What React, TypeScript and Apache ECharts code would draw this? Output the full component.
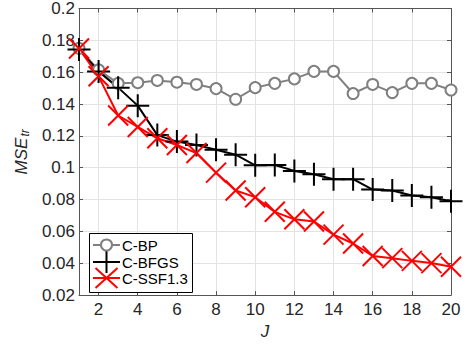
import React, { useEffect, useRef } from "react";
import * as echarts from "echarts";

// Hidden-layer count J on the x axis
const J_VALUES = ["1", "2", "3", "4", "5", "6", "7", "8", "9", "10", "11", "12", "13", "14", "15", "16", "17", "18", "19", "20"];

// Training MSE per method
const C_BP = [0.175, 0.1615, 0.153, 0.1534, 0.1548, 0.1537, 0.1523, 0.1497, 0.143, 0.1503, 0.153, 0.1558, 0.1605, 0.1605, 0.1466, 0.1523, 0.1472, 0.153, 0.153, 0.1488];
const C_BFGS = [0.1743, 0.1605, 0.1503, 0.139, 0.1205, 0.1164, 0.1143, 0.1113, 0.1082, 0.1015, 0.1017, 0.098, 0.0959, 0.0928, 0.0928, 0.0863, 0.0857, 0.0826, 0.0815, 0.0789];
const C_SSF = [0.1749, 0.1574, 0.1328, 0.1256, 0.1185, 0.1143, 0.1092, 0.0969, 0.0857, 0.0815, 0.0723, 0.0676, 0.0662, 0.058, 0.0524, 0.0446, 0.0432, 0.0415, 0.0401, 0.0378];

const SERIES_NAMES = ["C-BP", "C-BFGS", "C-SSF1.3"];
const Y_MIN = 0.02;
const Y_MAX = 0.2;
const Y_STEP = 0.02;

const FONT = "'Liberation Sans', Arial, Helvetica, sans-serif";
const PLUS = "path://M0,-1V1M-1,0H1";
const CROSS = "path://M-1,-1L1,1M-1,1L1,-1";

const evenOnly = (i: number) => i % 2 === 1;

export default function App() {
  const ref = useRef<HTMLDivElement>(null);

  useEffect(() => {
    if (!ref.current) return;
    const chart = echarts.init(ref.current, null, { renderer: "svg" });

    const lx = 93;
    const rx = 120;
    const cx = (lx + rx) / 2;
    const rows = [245, 262, 278];
    const Z = 100;
    const textStyle = { font: `15px ${FONT}`, fill: "#000", verticalAlign: "middle" };

    chart.setOption({
      animation: false,
      backgroundColor: "#fff",
      grid: { left: 79, right: 15, top: 7, bottom: 45, containLabel: false },
      xAxis: [
        {
          type: "category",
          data: J_VALUES,
          boundaryGap: false,
          name: "J",
          nameLocation: "middle",
          nameGap: 27,
          nameTextStyle: { fontFamily: FONT, fontSize: 17, fontStyle: "italic", color: "#262626" },
          axisLine: { lineStyle: { color: "#555", width: 1 } },
          axisTick: { inside: true, length: 4, interval: evenOnly, lineStyle: { color: "#555" } },
          axisLabel: { interval: evenOnly, margin: 6, fontFamily: FONT, fontSize: 17, color: "#262626" },
          splitLine: { show: true, interval: evenOnly, lineStyle: { color: "#e3e3e3", width: 1 } },
        },
        {
          type: "category",
          data: J_VALUES,
          boundaryGap: false,
          position: "top",
          axisLine: { lineStyle: { color: "#555", width: 1 } },
          axisTick: { inside: true, length: 4, interval: evenOnly, lineStyle: { color: "#555" } },
          axisLabel: { show: false },
          splitLine: { show: false },
        },
      ],
      yAxis: [
        {
          type: "value",
          min: Y_MIN,
          max: Y_MAX,
          interval: Y_STEP,
          name: "{m|MSE}{s|tr}",
          nameLocation: "middle",
          nameGap: 47,
          nameRotate: 90,
          nameTextStyle: {
            color: "#262626",
            rich: {
              m: { fontFamily: FONT, fontSize: 17, fontStyle: "italic", color: "#262626" },
              s: { fontFamily: FONT, fontSize: 12, fontStyle: "italic", color: "#262626", padding: [8, 0, 0, 1] },
            },
          },
          axisLine: { show: true, lineStyle: { color: "#555", width: 1 } },
          axisTick: { show: true, inside: true, length: 4, lineStyle: { color: "#555" } },
          axisLabel: {
            margin: 4,
            fontFamily: FONT,
            fontSize: 17,
            color: "#262626",
            formatter: (v: number) => String(+v.toFixed(2)),
          },
          splitLine: { show: true, lineStyle: { color: "#e3e3e3", width: 1 } },
        },
        {
          type: "value",
          min: Y_MIN,
          max: Y_MAX,
          interval: Y_STEP,
          position: "right",
          axisLine: { show: true, lineStyle: { color: "#555", width: 1 } },
          axisTick: { show: true, inside: true, length: 4, lineStyle: { color: "#555" } },
          axisLabel: { show: false },
          splitLine: { show: false },
        },
      ],
      series: [
        {
          name: SERIES_NAMES[0],
          type: "line",
          data: C_BP,
          symbol: "emptyCircle",
          symbolSize: 11,
          showAllSymbol: true,
          lineStyle: { color: "#808080", width: 2 },
          itemStyle: { color: "#808080", borderColor: "#808080", borderWidth: 2 },
        },
        {
          name: SERIES_NAMES[1],
          type: "line",
          data: C_BFGS,
          symbol: PLUS,
          symbolSize: 23,
          showAllSymbol: true,
          lineStyle: { color: "#000", width: 2 },
          itemStyle: { color: "#000", borderColor: "#000", borderWidth: 2 },
        },
        {
          name: SERIES_NAMES[2],
          type: "line",
          data: C_SSF,
          symbol: CROSS,
          symbolSize: 20,
          showAllSymbol: true,
          lineStyle: { color: "#ff0000", width: 2 },
          itemStyle: { color: "#ff0000", borderColor: "#ff0000", borderWidth: 2 },
        },
      ],
      graphic: [
        { type: "rect", z: Z, shape: { x: 89.5, y: 233.5, width: 103, height: 59 }, style: { fill: "#fff", stroke: "#000", lineWidth: 1 } },
        // C-BP
        { type: "line", z: Z + 1, shape: { x1: lx, y1: rows[0], x2: rx, y2: rows[0] }, style: { stroke: "#808080", lineWidth: 2 } },
        { type: "circle", z: Z + 2, shape: { cx, cy: rows[0], r: 5.5 }, style: { fill: "#fff", stroke: "#808080", lineWidth: 2 } },
        { type: "text", z: Z + 1, x: 122, y: rows[0], style: { text: SERIES_NAMES[0], ...textStyle } },
        // C-BFGS
        { type: "line", z: Z + 1, shape: { x1: lx, y1: rows[1], x2: rx, y2: rows[1] }, style: { stroke: "#000", lineWidth: 2 } },
        { type: "line", z: Z + 1, shape: { x1: cx, y1: rows[1] - 12, x2: cx, y2: rows[1] + 11 }, style: { stroke: "#000", lineWidth: 2 } },
        { type: "text", z: Z + 1, x: 122, y: rows[1], style: { text: SERIES_NAMES[1], ...textStyle } },
        // C-SSF1.3
        { type: "line", z: Z + 1, shape: { x1: lx, y1: rows[2], x2: rx, y2: rows[2] }, style: { stroke: "#ff0000", lineWidth: 2 } },
        { type: "line", z: Z + 1, shape: { x1: cx - 11, y1: rows[2] - 10, x2: cx + 11, y2: rows[2] + 10 }, style: { stroke: "#ff0000", lineWidth: 2 } },
        { type: "line", z: Z + 1, shape: { x1: cx - 11, y1: rows[2] + 10, x2: cx + 11, y2: rows[2] - 10 }, style: { stroke: "#ff0000", lineWidth: 2 } },
        { type: "text", z: Z + 1, x: 122, y: rows[2], style: { text: SERIES_NAMES[2], ...textStyle } },
      ],
    });

    return () => chart.dispose();
  }, []);

  return <div ref={ref} style={{ width: 466, height: 345, position: "absolute", left: 0, top: 0 }} />;
}
